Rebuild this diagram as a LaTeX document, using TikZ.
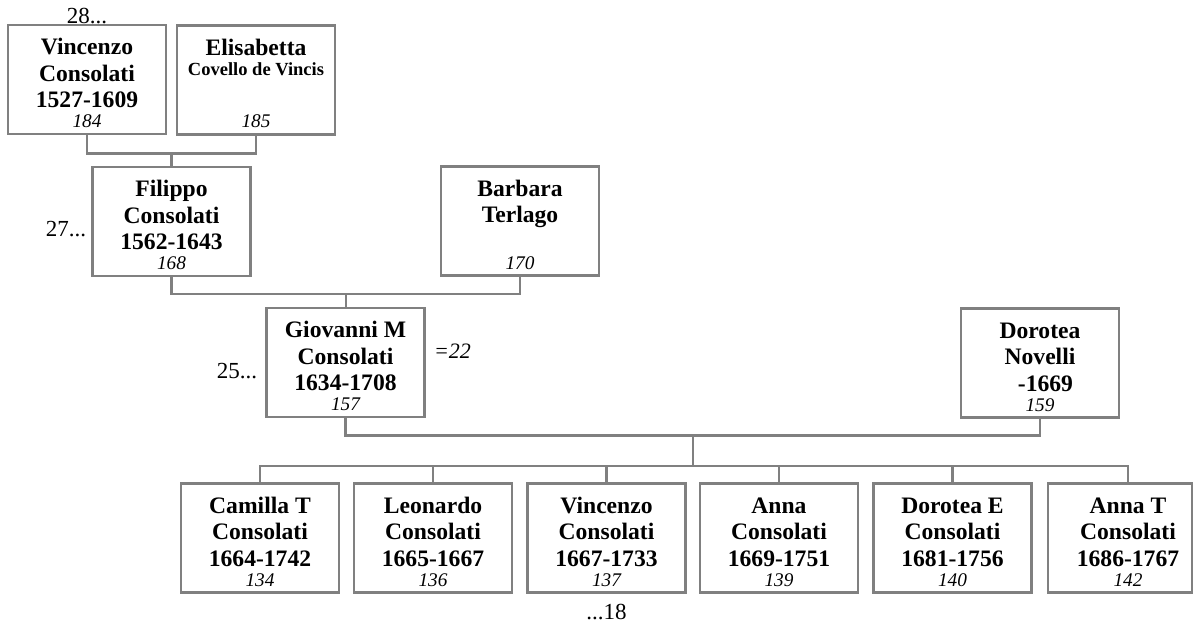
\documentclass[tikz,border=0pt]{standalone}
\usepackage{fontspec}
\setmainfont{Liberation Serif}
\usetikzlibrary{calc}
\definecolor{boxgray}{HTML}{808080}
\newcommand\numit{\fontsize{19.3}{22}\selectfont\mdseries\itshape}
\newcommand\smallbf{\fontsize{18.5}{22}\selectfont\bfseries}
\begin{document}
\begin{tikzpicture}[x=1pt,y=-1pt,
  person/.style={draw=boxgray, line width=2.6pt, minimum width=158pt, minimum height=109pt, inner sep=0pt},
  ptext/.style={anchor=base, inner sep=0pt, font=\fontsize{23.6}{26.5}\selectfont\bfseries},
  conn/.style={draw=boxgray, line width=2.4pt},
  note/.style={inner sep=0pt, font=\fontsize{23}{26}\selectfont}]
\useasboundingbox (0,0) rectangle (1195,626);

% ancestors
\node[person] (a) at (87,79.5) {};
\node[ptext] (at) at ([yshift=-31pt]a.north) {\begin{tabular}[t]{@{}c@{}}Vincenzo\\Consolati\\1527-1609\\[-6.5pt]\numit 184\end{tabular}};
\node[person] (b) at (256,80) {};
\node[ptext] (bt) at ([yshift=-31pt]b.north) {\begin{tabular}[t]{@{}c@{}}Elisabetta\\[-6.5pt]\smallbf Covello de Vincis\\[25.5pt]\numit 185\end{tabular}};

\node[person] (c) at (171.5,221.5) {};
\node[ptext] (ct) at ([yshift=-31pt]c.north) {\begin{tabular}[t]{@{}c@{}}Filippo\\Consolati\\1562-1643\\[-6.5pt]\numit 168\end{tabular}};
\node[person] (d) at (520,221) {};
\node[ptext] (dt) at ([yshift=-31pt]d.north) {\begin{tabular}[t]{@{}c@{}}Barbara\\Terlago\\[20.5pt]\numit 170\end{tabular}};

\node[person] (e) at (345.5,362.5) {};
\node[ptext] (et) at ([yshift=-31pt]e.north) {\begin{tabular}[t]{@{}c@{}}Giovanni M\\Consolati\\1634-1708\\[-6.5pt]\numit 157\end{tabular}};
\node[person] (f) at (1040,363) {};
\node[ptext] (ft) at ([yshift=-31pt]f.north) {\begin{tabular}[t]{@{}c@{}}Dorotea\\Novelli\\\hspace*{11pt}-1669\\[-6.5pt]\numit 159\end{tabular}};

% children
\node[person] (k1) at (260,538) {};
\node[ptext] (k1t) at ([yshift=-31pt]k1.north) {\begin{tabular}[t]{@{}c@{}}Camilla T\\Consolati\\1664-1742\\[-6.5pt]\numit 134\end{tabular}};
\node[person] (k2) at (433,538) {};
\node[ptext] (k2t) at ([yshift=-31pt]k2.north) {\begin{tabular}[t]{@{}c@{}}Leonardo\\Consolati\\1665-1667\\[-6.5pt]\numit 136\end{tabular}};
\node[person] (k3) at (606.5,538) {};
\node[ptext] (k3t) at ([yshift=-31pt]k3.north) {\begin{tabular}[t]{@{}c@{}}Vincenzo\\Consolati\\1667-1733\\[-6.5pt]\numit 137\end{tabular}};
\node[person] (k4) at (779,538) {};
\node[ptext] (k4t) at ([yshift=-31pt]k4.north) {\begin{tabular}[t]{@{}c@{}}Anna\\Consolati\\1669-1751\\[-6.5pt]\numit 139\end{tabular}};
\node[person] (k5) at (952.5,538) {};
\node[ptext] (k5t) at ([yshift=-31pt]k5.north) {\begin{tabular}[t]{@{}c@{}}Dorotea E\\Consolati\\1681-1756\\[-6.5pt]\numit 140\end{tabular}};
\node[person, minimum width=144pt] (k6) at (1120,538) {};
\node[ptext] (k6t) at ([xshift=8pt,yshift=-31pt]k6.north) {\begin{tabular}[t]{@{}c@{}}Anna T\\Consolati\\1686-1767\\[-6.5pt]\numit 142\end{tabular}};

% notes
\node[note, anchor=base] (n28) at (a.north) {28...};
\node[note, anchor=base east] (n27) at ([xshift=-5pt,yshift=-14.5pt]c.west) {27...};
\node[note, anchor=base east] (n25) at ([xshift=-8pt,yshift=-15.5pt]e.west) {25...};
\node[note, anchor=base west, font=\fontsize{22}{26}\selectfont\itshape] (n22) at ([xshift=8pt,yshift=4.5pt]e.east) {=22};
\node[note, anchor=base] (n18) at ([yshift=-26pt]k3.south) {...18};

% connectors
\coordinate (ab) at ($(a.south)!0.5!(b.south)+(0,18)$);
\draw[conn] (a.south) |- (ab) -| (b.south);
\draw[conn] (ab) -- (c.north);
\coordinate (cd) at ($(c.south)!0.5!(d.south)+(0,17)$);
\draw[conn] (c.south) |- (cd) -| (d.south);
\draw[conn] (cd) -- (cd |- e.north);
\coordinate (ef) at ($(e.south)!0.5!(f.south)+(0,17)$);
\draw[conn] (e.south) |- (ef) -| (f.south);
\coordinate (bus) at ([yshift=16pt]k1.north -| ef);
\draw[conn] (ef) -- (bus);
\coordinate (k6d) at ([xshift=8pt]k6.north);
\draw[conn] (k1.north) |- (k6d |- bus) -- (k6d);
\foreach \k in {k2,k3,k4,k5} \draw[conn] (\k.north) -- (\k.north |- bus);
\end{tikzpicture}
\end{document}
